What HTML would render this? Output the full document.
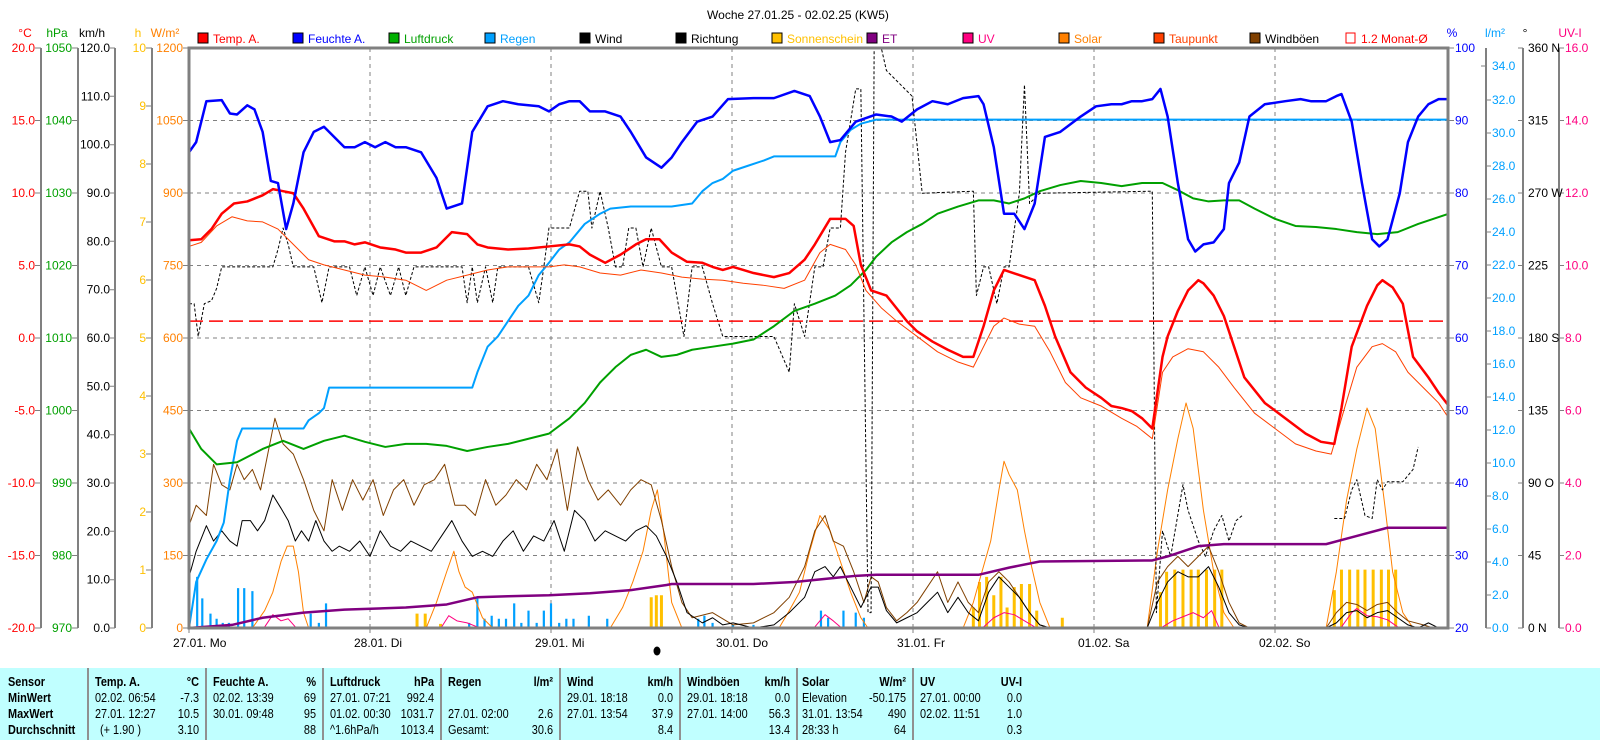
<!DOCTYPE html>
<html><head><meta charset="utf-8"><style>
html,body{margin:0;padding:0;background:#fff;width:1600px;height:740px;overflow:hidden}
svg{display:block}
.a{font-family:"Liberation Sans",sans-serif;font-size:12px}
.t{font-family:"Liberation Sans Narrow","Liberation Sans",sans-serif;font-size:13px}
.t text{transform-box:fill-box;transform-origin:left center;transform:scaleX(.84)}
.t .e text,.t text.e{transform-origin:right center}
.b{font-weight:bold}
</style></head><body>
<svg width="1600" height="740" viewBox="0 0 1600 740" xmlns="http://www.w3.org/2000/svg">
<rect x="0" y="0" width="1600" height="740" fill="#fff"/>
<text class="a" x="798" y="19" font-size="14" text-anchor="middle">Woche 27.01.25 - 02.02.25 (KW5)</text>

<!-- grid -->
<g stroke="#808080" stroke-width="1" stroke-dasharray="4,4">
<line x1="189" y1="120.5" x2="1448" y2="120.5"/><line x1="189" y1="193" x2="1448" y2="193"/><line x1="189" y1="265.5" x2="1448" y2="265.5"/><line x1="189" y1="338" x2="1448" y2="338"/><line x1="189" y1="410.5" x2="1448" y2="410.5"/><line x1="189" y1="483" x2="1448" y2="483"/><line x1="189" y1="555.5" x2="1448" y2="555.5"/>
<line x1="370" y1="48" x2="370" y2="628"/><line x1="551" y1="48" x2="551" y2="628"/><line x1="732" y1="48" x2="732" y2="628"/><line x1="913" y1="48" x2="913" y2="628"/><line x1="1094" y1="48" x2="1094" y2="628"/><line x1="1275" y1="48" x2="1275" y2="628"/>
</g>

<!-- data (perceived coords, scaled) -->
<g transform="translate(189,48) scale(1.0226,1.0229) translate(-188,-48)" fill="none" stroke-linejoin="round">
<g stroke="#00A0FF" stroke-width="2.2">
<path vector-effect="non-scaling-stroke" d="M196 615V565M201 615V586M209 615V601M215 615V606M221 615V610M227 615V610M236 615V576M242 615V576M250 615V579M307 615V601M315 615V610M322 615V591M462 615V610M470 615V585M477 615V606M484 615V603M491 615V606M498 615V606M506 615V591M513 615V610M520 615V598M528 615V610M535 615V598M542 615V591M550 615V610M557 615V606M564 615V606M579 615V603M597 615V606M686 615V606M692 615V603M700 615V610M720 615V612M740 615V612M806 615V598M813 615V605M828 615V598M840 615V600M848 615V605"/>
</g>
<path vector-effect="non-scaling-stroke" stroke="#FFC000" stroke-width="3" d="M411 615V601M419 615V601M434 615V611M640 615V585M645 615V583M650 615V583M955 615V595M961 615V570M968 615V565M975 615V583M982 615V565M988 615V595M995 615V575M1002 615V572M1010 615V572M1017 615V598M1042 615V605M1138 615V580M1144 615V560M1152 615V558M1160 615V558M1168 615V558M1175 615V558M1183 615V558M1191 615V558M1198 615V558M1308 615V578M1315 615V558M1323 615V558M1331 615V558M1338 615V558M1346 615V558M1354 615V558M1361 615V558M1368 615V558"/>
<g stroke="#FF8000" stroke-width="1" >
<polyline vector-effect="non-scaling-stroke" points="250,615 262,598 270,580 278,550 284,535 290,535 295,560 300,600 305,615"/>
<polyline vector-effect="non-scaling-stroke" points="420,615 430,590 440,560 447,540 452,560 458,575 465,580 475,605 485,615"/>
<polyline vector-effect="non-scaling-stroke" points="600,615 612,595 622,570 632,540 640,500 646,480 652,520 660,590 670,615"/>
<polyline vector-effect="non-scaling-stroke" points="765,615 775,598 785,580 795,540 805,505 815,520 825,550 835,580 845,605 852,615"/>
<polyline vector-effect="non-scaling-stroke" points="945,615 955,590 962,565 972,530 980,480 985,452 990,465 998,480 1005,520 1012,555 1020,590 1030,615"/>
<polyline vector-effect="non-scaling-stroke" points="1125,615 1135,540 1145,480 1155,430 1163,395 1170,420 1180,500 1190,560 1200,600 1210,615"/>
<polyline vector-effect="non-scaling-stroke" points="1300,615 1310,560 1320,490 1330,440 1340,400 1348,420 1358,500 1365,560 1375,600 1385,615"/>
</g>
<g stroke="#FF0080" stroke-width="1">
<polyline vector-effect="non-scaling-stroke" points="262,614 270,602 278,608 285,606 292,614"/>
<polyline vector-effect="non-scaling-stroke" points="435,614 442,603 450,608 460,610 470,614"/>
<polyline vector-effect="non-scaling-stroke" points="800,614 810,602 818,608 825,614"/>
<polyline vector-effect="non-scaling-stroke" points="965,614 975,605 985,600 995,602 1005,608 1015,614"/>
<polyline vector-effect="non-scaling-stroke" points="1140,614 1150,608 1160,604 1170,600 1180,605 1188,598 1195,614"/>
<polyline vector-effect="non-scaling-stroke" points="1315,614 1325,600 1330,596 1340,603 1350,604 1360,607 1370,614"/>
</g>
<polyline vector-effect="non-scaling-stroke" stroke="#804000" stroke-width="1" points="188,515 195,495 205,505 212,455 220,475 228,480 235,455 242,470 250,460 258,480 265,445 272,410 280,435 290,445 300,470 310,500 320,520 328,470 338,500 348,470 358,490 368,470 378,505 388,480 398,470 408,495 418,475 428,470 438,455 448,495 458,495 468,505 478,470 488,495 498,485 508,470 518,480 528,455 538,470 548,440 558,500 568,438 578,470 588,490 598,480 610,495 620,480 630,470 640,475 650,510 660,555 670,590 680,605 700,600 720,612 740,610 760,600 775,585 790,555 800,520 810,505 818,530 828,535 838,560 848,590 855,565 862,570 870,595 880,608 890,600 900,590 910,575 920,560 930,590 940,570 950,590 960,600 970,570 980,560 990,570 1000,585 1010,600 1020,612 1030,615 1125,615 1135,570 1145,555 1155,545 1165,555 1175,545 1185,535 1195,560 1205,590 1215,610 1225,615 1300,615 1310,600 1320,590 1330,592 1340,598 1350,592 1360,590 1370,600 1380,608 1395,612 1405,615 1420,615"/>
<polyline vector-effect="non-scaling-stroke" stroke="#000" stroke-width="1" points="188,565 195,540 205,515 212,530 220,520 228,530 235,535 240,510 248,510 255,520 262,510 270,485 278,498 285,510 292,530 298,520 305,530 312,510 320,530 328,540 335,535 345,540 355,530 365,545 375,520 385,535 395,540 405,530 415,535 425,540 435,525 445,510 455,530 465,545 475,540 485,545 495,530 505,520 515,540 525,525 535,530 545,510 555,540 565,500 575,510 585,530 595,520 605,525 615,530 625,520 635,515 645,525 655,545 665,570 675,600 690,610 700,605 710,612 720,610 740,615 760,612 775,600 790,585 800,560 810,555 818,565 825,555 835,575 845,595 855,575 862,575 870,598 880,610 890,605 900,600 910,590 920,580 930,600 940,585 950,600 960,608 970,580 980,565 990,575 1000,585 1010,600 1020,612 1030,615 1125,615 1135,590 1145,570 1155,560 1165,565 1175,565 1185,555 1195,575 1205,600 1215,612 1225,615 1300,615 1310,610 1320,600 1330,598 1340,605 1350,600 1360,598 1370,605 1380,612 1390,615 1400,610 1410,615"/>
<g stroke="#000" stroke-width="1" stroke-dasharray="3,2">
<polyline vector-effect="non-scaling-stroke" points="188,298 193,298 197,330 203,298 210,295 215,283 220,262 270,262 275,245 280,224 285,240 290,262 310,262 318,297 325,262 345,262 352,290 360,262 368,290 375,262 385,290 393,262 400,290 408,262 455,262 460,297 465,262 470,297 478,262 485,297 490,262 520,262 530,297 535,262 540,224 560,224 570,188 578,188 582,224 590,188 598,224 605,262 612,262 618,224 625,224 632,262 640,224 650,262 660,262 672,330 680,262 690,262 700,298 710,330 760,330 775,365 780,298 790,330 800,262 808,262 815,224 825,224 830,150 840,88 845,88 852,600 855,600 858,48 865,48 870,70 880,80 895,95 905,190 955,188 958,290 965,262 970,262 978,298 985,262 990,262 1000,190 1005,84 1010,200 1020,190 1130,188 1134,600 1140,520 1148,545 1160,475 1165,500 1175,530 1182,545 1190,520 1198,505 1205,530 1212,510 1218,505"/>
<polyline vector-effect="non-scaling-stroke" points="1308,508 1318,508 1325,480 1330,470 1338,505 1345,508 1350,470 1355,480 1360,472 1375,472 1385,460 1390,438"/>
</g>
<polyline vector-effect="non-scaling-stroke" stroke="#800080" stroke-width="2.5" points="188,615 230,612 260,605 300,600 340,597 400,595 440,592 470,585 500,584 540,583 580,581 620,578 655,573 660,572 740,572 780,570 820,566 840,564 860,563 960,563 990,556 1020,550 1130,549 1145,545 1175,535 1200,533 1300,533 1330,525 1360,517 1420,517"/>
<line vector-effect="non-scaling-stroke" x1="188" y1="315" x2="1418" y2="315" stroke="#FF0000" stroke-width="1.5" stroke-dasharray="14,6"/>
<polyline vector-effect="non-scaling-stroke" stroke="#00A0FF" stroke-width="2" points="188,615 195,570 205,548 215,530 222,512 228,470 235,432 240,420 300,420 305,412 315,405 320,400 325,380 465,380 470,365 480,340 490,330 500,315 510,300 520,290 530,270 540,258 550,245 560,238 575,220 590,210 600,205 620,203 660,203 680,200 690,188 700,180 710,176 720,168 735,163 750,158 760,154 820,154 825,140 835,128 845,122 860,118 880,118 1418,118"/>
<polyline vector-effect="non-scaling-stroke" stroke="#00A000" stroke-width="2" points="188,420 200,440 215,455 235,453 260,440 280,432 300,440 320,432 340,427 360,433 380,438 400,435 420,435 440,437 460,442 480,438 500,435 520,430 540,425 560,410 575,395 590,375 605,360 620,348 635,343 650,350 665,348 680,343 700,340 720,337 740,333 760,320 780,305 800,298 820,290 835,280 850,265 860,252 875,238 890,228 905,220 920,210 940,203 960,197 975,197 990,200 1005,195 1020,188 1040,182 1060,178 1080,180 1100,183 1120,180 1140,180 1155,187 1170,195 1185,198 1200,197 1215,197 1230,205 1250,215 1270,222 1290,223 1310,225 1330,228 1350,230 1370,228 1390,220 1405,215 1420,210"/>
<polyline vector-effect="non-scaling-stroke" stroke="#FF4000" stroke-width="1" points="188,242 200,238 215,222 230,213 245,217 260,218 275,225 290,240 305,255 320,260 340,265 360,270 380,272 400,275 420,285 440,275 460,270 480,265 500,262 520,262 540,262 555,260 570,262 590,268 610,270 630,265 650,268 670,272 690,274 710,275 730,278 750,280 770,283 790,275 805,248 815,240 830,245 840,260 850,285 865,302 880,315 900,330 920,345 940,355 955,360 965,340 975,320 985,312 1000,318 1015,320 1030,345 1045,375 1060,390 1080,398 1100,410 1115,418 1130,430 1140,365 1150,350 1165,342 1180,345 1195,360 1210,380 1230,405 1250,420 1270,435 1290,442 1305,445 1318,400 1330,360 1345,340 1355,337 1368,345 1380,365 1395,380 1410,395 1420,410"/>
<polyline vector-effect="non-scaling-stroke" stroke="#FF0000" stroke-width="2.5" points="188,236 200,235 210,225 220,210 232,200 245,198 260,192 270,186 280,188 290,190 300,205 315,232 330,237 340,237 350,240 360,238 375,243 390,245 400,248 415,248 430,243 445,228 460,230 470,240 480,243 500,245 520,244 540,242 560,240 570,242 580,250 595,258 610,250 625,240 635,235 648,235 660,248 675,257 690,258 700,262 710,265 720,262 730,265 740,268 760,272 775,268 790,255 800,240 815,215 830,215 838,222 845,260 855,285 870,290 878,300 890,315 900,325 915,335 930,343 945,350 955,350 965,320 975,285 985,265 1000,270 1015,275 1025,300 1035,330 1050,365 1065,380 1080,390 1090,398 1100,400 1110,403 1120,410 1130,420 1140,350 1145,330 1155,305 1165,285 1175,275 1180,278 1190,290 1200,310 1210,340 1220,370 1240,395 1260,410 1280,425 1295,433 1308,435 1315,400 1325,340 1340,300 1350,280 1355,275 1365,282 1375,298 1385,350 1400,370 1410,385 1420,398"/>
<polyline vector-effect="non-scaling-stroke" stroke="#0000FF" stroke-width="2.5" points="188,150 195,140 205,100 220,99 228,112 235,113 245,104 252,108 260,130 268,178 275,180 283,225 290,200 300,150 310,130 320,125 330,135 340,145 350,145 360,140 370,145 380,140 390,145 400,145 415,150 430,175 440,205 455,200 465,130 480,105 495,100 510,103 530,105 540,110 550,103 560,100 570,100 580,110 595,110 610,115 620,130 635,155 650,165 660,155 670,140 685,120 700,115 715,98 740,97 760,97 780,90 795,95 805,115 815,140 825,138 840,120 860,113 875,115 885,120 900,108 915,100 930,103 945,97 960,95 965,103 975,145 985,210 995,210 1005,225 1015,200 1025,135 1040,130 1060,115 1075,105 1090,103 1100,103 1110,100 1120,100 1130,98 1138,88 1145,115 1155,180 1165,235 1172,247 1180,240 1190,238 1200,225 1205,180 1215,160 1225,115 1240,103 1260,100 1275,98 1285,100 1300,100 1310,95 1315,93 1325,120 1335,180 1345,235 1352,242 1360,235 1372,190 1380,140 1390,115 1400,103 1410,98 1420,98"/>
</g>

<rect x="189" y="48" width="1259" height="580" fill="none" stroke="#808080" stroke-width="3"/>

<g stroke="#808080" stroke-width="2">
<line x1="41" y1="48" x2="41" y2="628"/><line x1="78" y1="48" x2="78" y2="628"/><line x1="115" y1="48" x2="115" y2="628"/><line x1="152" y1="48" x2="152" y2="628"/>
<line x1="1486" y1="48" x2="1486" y2="628"/><line x1="1523" y1="48" x2="1523" y2="628"/><line x1="1559" y1="48" x2="1559" y2="628"/>
</g>

<g class="a" text-anchor="middle">
<text x="25" y="37" fill="#FF0000">°C</text><text x="57" y="37" fill="#00A000">hPa</text><text x="92" y="37" fill="#000">km/h</text>
<text x="138" y="37" fill="#FFC000">h</text><text x="165" y="37" fill="#FF8000">W/m²</text>
<text x="1452" y="37" fill="#0000FF">%</text><text x="1495" y="37" fill="#00A0FF">l/m²</text><text x="1525" y="37" fill="#000">°</text><text x="1570" y="37" fill="#FF0080">UV-I</text>
</g>

<g class="a" text-anchor="end">
<g fill="#FF0000"><text x="35" y="52">20.0</text><text x="35" y="124.5">15.0</text><text x="35" y="197">10.0</text><text x="35" y="269.5">5.0</text><text x="35" y="342">0.0</text><text x="35" y="414.5">-5.0</text><text x="35" y="487">-10.0</text><text x="35" y="559.5">-15.0</text><text x="35" y="632">-20.0</text></g>
<g fill="#00A000"><text x="72" y="52">1050</text><text x="72" y="124.5">1040</text><text x="72" y="197">1030</text><text x="72" y="269.5">1020</text><text x="72" y="342">1010</text><text x="72" y="414.5">1000</text><text x="72" y="487">990</text><text x="72" y="559.5">980</text><text x="72" y="632">970</text></g>
<g fill="#000"><text x="110" y="52">120.0</text><text x="110" y="100.3">110.0</text><text x="110" y="148.7">100.0</text><text x="110" y="197">90.0</text><text x="110" y="245.3">80.0</text><text x="110" y="293.7">70.0</text><text x="110" y="342">60.0</text><text x="110" y="390.3">50.0</text><text x="110" y="438.7">40.0</text><text x="110" y="487">30.0</text><text x="110" y="535.3">20.0</text><text x="110" y="583.7">10.0</text><text x="110" y="632">0.0</text></g>
<g fill="#FFC000"><text x="146" y="52">10</text><text x="146" y="110">9</text><text x="146" y="168">8</text><text x="146" y="226">7</text><text x="146" y="284">6</text><text x="146" y="342">5</text><text x="146" y="400">4</text><text x="146" y="458">3</text><text x="146" y="516">2</text><text x="146" y="574">1</text><text x="146" y="632">0</text></g>
<g fill="#FF8000"><text x="183" y="52">1200</text><text x="183" y="124.5">1050</text><text x="183" y="197">900</text><text x="183" y="269.5">750</text><text x="183" y="342">600</text><text x="183" y="414.5">450</text><text x="183" y="487">300</text><text x="183" y="559.5">150</text><text x="183" y="632">0</text></g>
</g>
<g stroke="#808080" stroke-width="1">
<path d="M35 48h6M35 120.5h6M35 193h6M35 265.5h6M35 338h6M35 410.5h6M35 483h6M35 555.5h6M35 628h6"/>
<path d="M72 48h6M72 120.5h6M72 193h6M72 265.5h6M72 338h6M72 410.5h6M72 483h6M72 555.5h6M72 628h6"/>
<path d="M110 48h5M110 96.3h5M110 144.7h5M110 193h5M110 241.3h5M110 289.7h5M110 338h5M110 386.3h5M110 434.7h5M110 483h5M110 531.3h5M110 579.7h5M110 628h5"/>
<path d="M146 48h6M146 106h6M146 164h6M146 222h6M146 280h6M146 338h6M146 396h6M146 454h6M146 512h6M146 570h6M146 628h6"/>
<path d="M183 48h6M183 120.5h6M183 193h6M183 265.5h6M183 338h6M183 410.5h6M183 483h6M183 555.5h6M183 628h6"/>
<path d="M1448 48h6M1448 120.5h6M1448 193h6M1448 265.5h6M1448 338h6M1448 410.5h6M1448 483h6M1448 555.5h6M1448 628h6"/>
<path d="M1486 628h5M1486 595h5M1486 562h5M1486 529h5M1486 496h5M1486 463h5M1486 430h5M1486 397h5M1486 364h5M1486 331h5M1486 298h5M1486 265h5M1486 232h5M1486 199h5M1486 166h5M1486 133h5M1486 100h5M1481 66h5"/>
<path d="M1518 48h5M1518 120.5h5M1518 193h5M1518 265.5h5M1518 338h5M1518 410.5h5M1518 483h5M1518 555.5h5M1518 628h5"/>
<path d="M1559 48h5M1559 120.5h5M1559 193h5M1559 265.5h5M1559 338h5M1559 410.5h5M1559 483h5M1559 555.5h5M1559 628h5"/>
</g>
<g class="a">
<g fill="#0000FF"><text x="1455" y="52">100</text><text x="1455" y="124.5">90</text><text x="1455" y="197">80</text><text x="1455" y="269.5">70</text><text x="1455" y="342">60</text><text x="1455" y="414.5">50</text><text x="1455" y="487">40</text><text x="1455" y="559.5">30</text><text x="1455" y="632">20</text></g>
<g fill="#00A0FF"><text x="1492" y="632">0.0</text><text x="1492" y="599">2.0</text><text x="1492" y="566">4.0</text><text x="1492" y="533">6.0</text><text x="1492" y="500">8.0</text><text x="1492" y="467">10.0</text><text x="1492" y="434">12.0</text><text x="1492" y="401">14.0</text><text x="1492" y="368">16.0</text><text x="1492" y="335">18.0</text><text x="1492" y="302">20.0</text><text x="1492" y="269">22.0</text><text x="1492" y="236">24.0</text><text x="1492" y="203">26.0</text><text x="1492" y="170">28.0</text><text x="1492" y="137">30.0</text><text x="1492" y="104">32.0</text><text x="1492" y="70">34.0</text></g>
<g fill="#000"><text x="1528" y="52">360 N</text><text x="1528" y="124.5">315</text><text x="1528" y="197">270 W</text><text x="1528" y="269.5">225</text><text x="1528" y="342">180 S</text><text x="1528" y="414.5">135</text><text x="1528" y="487">90 O</text><text x="1528" y="559.5">45</text><text x="1528" y="632">0 N</text></g>
<g fill="#FF0080"><text x="1565" y="52">16.0</text><text x="1565" y="124.5">14.0</text><text x="1565" y="197">12.0</text><text x="1565" y="269.5">10.0</text><text x="1565" y="342">8.0</text><text x="1565" y="414.5">6.0</text><text x="1565" y="487">4.0</text><text x="1565" y="559.5">2.0</text><text x="1565" y="632">0.0</text></g>
</g>

<g class="a">
<rect x="198" y="33" width="10" height="10" fill="#FF0000" stroke="#000"/><text x="213" y="43" fill="#FF0000">Temp. A.</text>
<rect x="293" y="33" width="10" height="10" fill="#0000FF" stroke="#000"/><text x="308" y="43" fill="#0000FF">Feuchte A.</text>
<rect x="389" y="33" width="10" height="10" fill="#00B000" stroke="#000"/><text x="404" y="43" fill="#00A000">Luftdruck</text>
<rect x="485" y="33" width="10" height="10" fill="#00A0FF" stroke="#000"/><text x="500" y="43" fill="#00A0FF">Regen</text>
<rect x="580" y="33" width="10" height="10" fill="#000" stroke="#000"/><text x="595" y="43" fill="#000">Wind</text>
<rect x="676" y="33" width="10" height="10" fill="#000" stroke="#000"/><text x="691" y="43" fill="#000">Richtung</text>
<rect x="772" y="33" width="10" height="10" fill="#FFC000" stroke="#000"/><text x="787" y="43" fill="#FFC000">Sonnenschein</text>
<rect x="867" y="33" width="10" height="10" fill="#800080" stroke="#000"/><text x="882" y="43" fill="#800080">ET</text>
<rect x="963" y="33" width="10" height="10" fill="#FF0080" stroke="#000"/><text x="978" y="43" fill="#FF0080">UV</text>
<rect x="1059" y="33" width="10" height="10" fill="#FF8000" stroke="#000"/><text x="1074" y="43" fill="#FF8000">Solar</text>
<rect x="1154" y="33" width="10" height="10" fill="#FF4000" stroke="#000"/><text x="1169" y="43" fill="#FF4000">Taupunkt</text>
<rect x="1250" y="33" width="10" height="10" fill="#804000" stroke="#000"/><text x="1265" y="43" fill="#000">Windböen</text>
<rect x="1346" y="33" width="9" height="10" fill="none" stroke="#FF0000"/><text x="1361" y="43" fill="#FF0000">1.2 Monat-Ø</text>
</g>

<g class="a" fill="#000">
<text x="173" y="647">27.01.  Mo</text><text x="354" y="647">28.01.  Di</text><text x="535" y="647">29.01.  Mi</text><text x="716" y="647">30.01.  Do</text><text x="897" y="647">31.01.  Fr</text><text x="1078" y="647">01.02.  Sa</text><text x="1259" y="647">02.02.  So</text>
</g>
<g stroke="#808080"><path d="M189 628v5M370 628v5M551 628v5M732 628v5M913 628v5M1094 628v5M1275 628v5"/></g>
<ellipse cx="657" cy="651" rx="3.5" ry="4.5" fill="#000"/>

<rect x="0" y="668" width="1600" height="72" fill="#C0FFFF"/>
<g stroke="#909090" stroke-width="2"><path d="M88 668v72M206 668v72M323 668v72M441 668v72M560 668v72M680 668v72M797 668v72M913 668v72"/></g>
<g class="t" fill="#000">
<g class="b"><text x="8" y="686">Sensor</text><text x="8" y="702">MinWert</text><text x="8" y="718">MaxWert</text><text x="8" y="734">Durchschnitt</text>
<text x="95" y="686">Temp. A.</text><text x="213" y="686">Feuchte A.</text><text x="330" y="686">Luftdruck</text><text x="448" y="686">Regen</text><text x="567" y="686">Wind</text><text x="687" y="686">Windböen</text><text x="802" y="686">Solar</text><text x="920" y="686">UV</text></g>
<g class="b e" text-anchor="end"><text x="199" y="686">°C</text><text x="316" y="686">%</text><text x="434" y="686">hPa</text><text x="553" y="686">l/m²</text><text x="673" y="686">km/h</text><text x="790" y="686">km/h</text><text x="906" y="686">W/m²</text><text x="1022" y="686">UV-I</text></g>
<text x="95" y="702">02.02.  06:54</text><text x="95" y="718">27.01.  12:27</text><text x="100" y="734">(+ 1.90 )</text>
<text x="213" y="702">02.02.  13:39</text><text x="213" y="718">30.01.  09:48</text>
<text x="330" y="702">27.01.  07:21</text><text x="330" y="718">01.02.  00:30</text><text x="330" y="734">^1.6hPa/h</text>
<text x="448" y="718">27.01.  02:00</text><text x="448" y="734">Gesamt:</text>
<text x="567" y="702">29.01.  18:18</text><text x="567" y="718">27.01.  13:54</text>
<text x="687" y="702">29.01.  18:18</text><text x="687" y="718">27.01.  14:00</text>
<text x="802" y="702">Elevation</text><text x="802" y="718">31.01.  13:54</text><text x="802" y="734">28:33 h</text>
<text x="920" y="702">27.01.  00:00</text><text x="920" y="718">02.02.  11:51</text>
<g class="e" text-anchor="end">
<text x="199" y="702">-7.3</text><text x="199" y="718">10.5</text><text x="199" y="734">3.10</text>
<text x="316" y="702">69</text><text x="316" y="718">95</text><text x="316" y="734">88</text>
<text x="434" y="702">992.4</text><text x="434" y="718">1031.7</text><text x="434" y="734">1013.4</text>
<text x="553" y="718">2.6</text><text x="553" y="734">30.6</text>
<text x="673" y="702">0.0</text><text x="673" y="718">37.9</text><text x="673" y="734">8.4</text>
<text x="790" y="702">0.0</text><text x="790" y="718">56.3</text><text x="790" y="734">13.4</text>
<text x="906" y="702">-50.175</text><text x="906" y="718">490</text><text x="906" y="734">64</text>
<text x="1022" y="702">0.0</text><text x="1022" y="718">1.0</text><text x="1022" y="734">0.3</text>
</g>
</g>
</svg>
</body></html>
